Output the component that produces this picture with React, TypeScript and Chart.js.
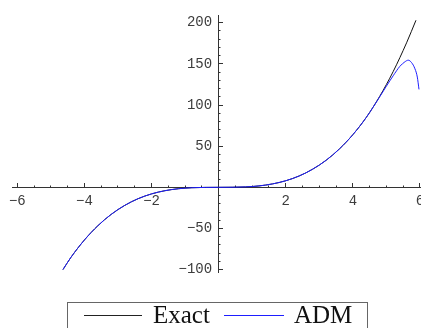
import React, { useEffect, useRef } from "react";
import { Chart, registerables } from "chart.js";

Chart.register(...registerables);

// Exact solution samples
const exactX = [-4.64, -4.4, -4.0, -3.6, -3.2, -2.8, -2.4, -2.0, -1.6, -1.2, -0.8, -0.4, 0, 0.4, 0.8, 1.2, 1.6, 2.0, 2.4, 2.8, 3.2, 3.6, 4.0, 4.4, 4.8, 5.2, 5.6, 5.88];
const exactY = [-100, -85, -64, -46.7, -32.8, -22, -13.8, -8, -4.1, -1.7, -0.5, -0.1, 0, 0.1, 0.5, 1.7, 4.1, 8, 13.8, 22, 32.8, 46.7, 64, 85, 110.6, 140.6, 175.6, 203];

// ADM approximation samples
const admX = [-4.64, -4.4, -4.0, -3.6, -3.2, -2.8, -2.4, -2.0, -1.6, -1.2, -0.8, -0.4, 0, 0.4, 0.8, 1.2, 1.6, 2.0, 2.4, 2.8, 3.2, 3.6, 4.0, 4.4, 4.8, 5.0, 5.2, 5.4, 5.55, 5.65, 5.75, 5.85, 5.92, 5.97];
const admY = [-100, -85, -64, -46.7, -32.8, -22, -13.8, -8, -4.1, -1.7, -0.5, -0.1, 0, 0.1, 0.5, 1.7, 4.1, 8, 13.8, 22, 32.8, 46.7, 64, 85, 110, 123, 135.5, 147, 152.5, 154.5, 151.5, 144, 134, 119];

const seriesNames = ["Exact", "ADM"];
const xTickLabels = [-6, -4, -2, 2, 4, 6];
const yTickLabels = [-100, -50, 50, 100, 150, 200];

const MONO = "'Liberation Mono', 'DejaVu Sans Mono', monospace";
const AXIS_COLOR = "#333333";
const LABEL_COLOR = "#3c3c3c";
const BLUE = "rgb(30,30,255)";

const X_MIN = -6.158;
const X_MAX = 6.03;
const Y_MIN = -102.9;
const Y_MAX = 209.4;

const fmt = (v: number) => (v < 0 ? "\u2212" + Math.abs(v) : String(v));

export default function App() {
  const ref = useRef<HTMLCanvasElement | null>(null);

  useEffect(() => {
    if (!ref.current) return;
    const zeroPad = (s: any) => {
      s.paddingLeft = 0;
      s.paddingRight = 0;
      s.paddingTop = 0;
      s.paddingBottom = 0;
    };
    const zeroH = (s: any) => { s.height = 0; zeroPad(s); };
    const zeroW = (s: any) => { s.width = 0; zeroPad(s); };
    const chart = new Chart(ref.current, {
      type: "line",
      data: {
        datasets: [
          {
            label: seriesNames[1],
            data: admX.map((x, i) => ({ x, y: admY[i] })),
            borderColor: BLUE,
            borderWidth: 1,
            pointRadius: 0,
            cubicInterpolationMode: "monotone",
            fill: false,
            order: 0,
          },
          {
            label: seriesNames[0],
            data: exactX.map((x, i) => ({ x, y: exactY[i] })),
            borderColor: "#111111",
            borderWidth: 1,
            pointRadius: 0,
            cubicInterpolationMode: "monotone",
            fill: false,
            order: 1,
          },
        ],
      },
      options: {
        animation: false,
        responsive: false,
        maintainAspectRatio: false,
        layout: { padding: { left: 12, right: 0, top: 15, bottom: 56 } },
        plugins: { legend: { display: false }, tooltip: { enabled: false } },
        scales: {
          x: {
            type: "linear",
            min: X_MIN,
            max: X_MAX,
            position: { y: 0 } as any,
            afterFit: zeroH,
            border: { display: true, color: AXIS_COLOR, width: 1 },
            grid: { drawOnChartArea: false, drawTicks: true, tickLength: -2.5, tickColor: AXIS_COLOR, tickWidth: 1 },
            ticks: {
              stepSize: 0.5,
              includeBounds: false,
              autoSkip: false,
              maxRotation: 0,
              padding: 8,
              color: LABEL_COLOR,
              font: { family: MONO, size: 14 },
              callback: (v: any) => (xTickLabels.includes(Number(v)) ? fmt(Number(v)) : ""),
            },
          },
          x2: {
            type: "linear",
            axis: "x",
            min: X_MIN,
            max: X_MAX,
            position: { y: 0 } as any,
            afterFit: zeroH,
            border: { display: false },
            grid: { drawOnChartArea: false, drawTicks: true, tickLength: -4, tickColor: AXIS_COLOR, tickWidth: 1 },
            ticks: { display: false, stepSize: 2, includeBounds: false, autoSkip: false },
          } as any,
          y: {
            type: "linear",
            min: Y_MIN,
            max: Y_MAX,
            position: { x: 0 } as any,
            afterFit: zeroW,
            border: { display: true, color: AXIS_COLOR, width: 1 },
            grid: { drawOnChartArea: false, drawTicks: true, tickLength: -2.5, tickColor: AXIS_COLOR, tickWidth: 1 },
            ticks: { display: false, stepSize: 10, includeBounds: false, autoSkip: false },
          },
          y2: {
            type: "linear",
            axis: "y",
            min: Y_MIN,
            max: Y_MAX,
            position: { x: 0 } as any,
            afterFit: zeroW,
            border: { display: false },
            grid: { drawOnChartArea: false, drawTicks: true, tickLength: -4, tickColor: AXIS_COLOR, tickWidth: 1 },
            ticks: { display: false, stepSize: 50, includeBounds: false, autoSkip: false },
          } as any,
          yLabels: {
            type: "linear",
            axis: "y",
            min: Y_MIN,
            max: Y_MAX,
            position: { x: -0.195 } as any,
            afterFit: zeroW,
            border: { display: false },
            grid: { display: false, drawOnChartArea: false, drawTicks: false },
            ticks: {
              stepSize: 50,
              includeBounds: false,
              autoSkip: false,
              padding: 0,
              color: LABEL_COLOR,
              font: { family: MONO, size: 14 },
              callback: (v: any) => (yTickLabels.includes(Number(v)) ? fmt(Number(v)) : ""),
            },
          } as any,
        },
      },
    });
    return () => chart.destroy();
  }, []);

  const lineStyle = (left: number, width: number, color: string): React.CSSProperties => ({
    position: "absolute",
    left,
    top: 12,
    width,
    height: 1,
    background: color,
  });
  const textStyle = (left: number): React.CSSProperties => ({
    position: "absolute",
    left,
    top: -1,
    fontFamily: "'Liberation Serif', 'DejaVu Serif', serif",
    fontSize: 25,
    lineHeight: "25px",
    color: "#111",
    whiteSpace: "nowrap",
  });

  return (
    <div style={{ position: "fixed", left: 0, top: 0, width: 421, height: 328, overflow: "hidden", background: "#fff" }}>
      <canvas ref={ref} width={421} height={328} style={{ position: "absolute", left: 0, top: 0, width: 421, height: 328 }} />
      <div
        style={{
          position: "absolute",
          left: 67,
          top: 302,
          width: 301,
          height: 40,
          boxSizing: "border-box",
          border: "1px solid #666",
          background: "#fff",
        }}
      >
        <div style={lineStyle(16, 58, "#222")} />
        <span style={textStyle(85)}>{seriesNames[0]}</span>
        <div style={lineStyle(156, 60, BLUE)} />
        <span style={textStyle(226)}>{seriesNames[1]}</span>
      </div>
    </div>
  );
}
